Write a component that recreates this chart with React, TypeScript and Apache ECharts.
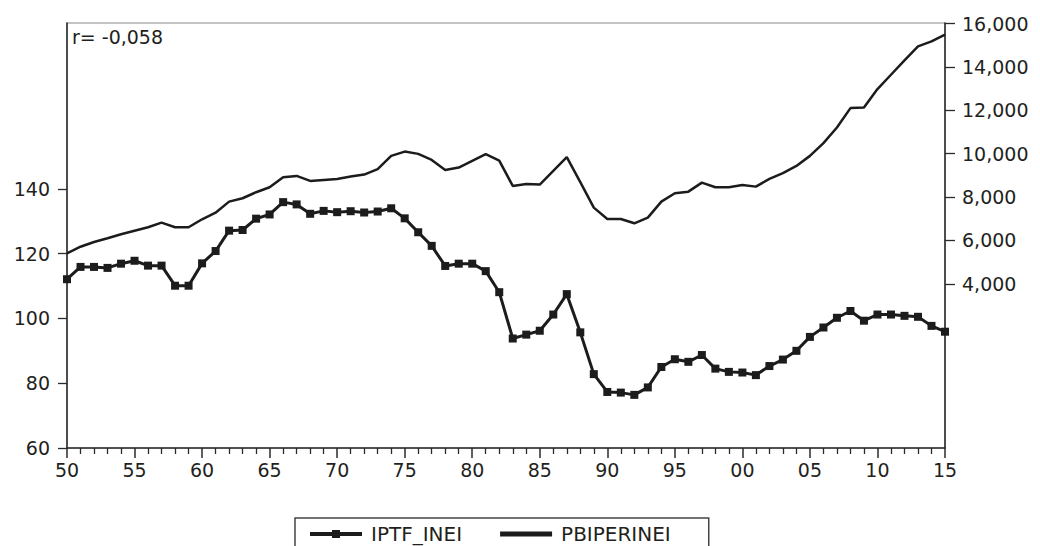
import React, { useEffect, useRef } from "react";
import * as echarts from "echarts";

const years = [
  1950, 1951, 1952, 1953, 1954, 1955, 1956, 1957, 1958, 1959,
  1960, 1961, 1962, 1963, 1964, 1965, 1966, 1967, 1968, 1969,
  1970, 1971, 1972, 1973, 1974, 1975, 1976, 1977, 1978, 1979,
  1980, 1981, 1982, 1983, 1984, 1985, 1986, 1987, 1988, 1989,
  1990, 1991, 1992, 1993, 1994, 1995, 1996, 1997, 1998, 1999,
  2000, 2001, 2002, 2003, 2004, 2005, 2006, 2007, 2008, 2009,
  2010, 2011, 2012, 2013, 2014, 2015,
];

const iptfInei = [
  112.1, 115.9, 115.9, 115.6, 116.9, 117.8, 116.3, 116.3, 110.1, 110.1,
  117.0, 120.8, 127.1, 127.3, 130.8, 132.1, 135.9, 135.2, 132.3, 133.2,
  132.8, 133.1, 132.7, 133.0, 134.0, 130.9, 126.6, 122.4, 116.2, 116.9,
  116.9, 114.6, 108.1, 93.8, 95.0, 96.2, 101.2, 107.5, 95.7, 82.8,
  77.3, 77.1, 76.4, 78.7, 85.0, 87.4, 86.6, 88.7, 84.5, 83.5,
  83.3, 82.5, 85.3, 87.3, 90.0, 94.3, 97.2, 100.2, 102.3, 99.3,
  101.2, 101.2, 100.8, 100.5, 97.7, 95.9,
];

const pbiPerInei = [
  5404, 5709, 5927, 6097, 6282, 6449, 6605, 6818, 6605, 6605,
  6975, 7280, 7788, 7945, 8223, 8454, 8916, 8976, 8745, 8791,
  8837, 8950, 9036, 9285, 9900, 10098, 9992, 9715, 9253, 9359,
  9669, 9978, 9683, 8514, 8606, 8574, 9207, 9840, 8685, 7511,
  6989, 6989, 6790, 7049, 7788, 8176, 8250, 8666, 8454, 8454,
  8560, 8481, 8837, 9100, 9437, 9900, 10486, 11207, 12103, 12131,
  12981, 13642, 14303, 14949, 15180, 15490,
];

const leftTicks = [60, 80, 100, 120, 140];
const rightTicks = [4000, 6000, 8000, 10000, 12000, 14000, 16000];
const seriesNames = ["IPTF_INEI", "PBIPERINEI"];
const corrLabel = "r= -0,058";

const FONT = "DejaVu Sans";
const TXT = "#231f20";
const AX = "#2a2a2a";

export default function App() {
  const ref = useRef<HTMLDivElement>(null);
  useEffect(() => {
    if (!ref.current) return;
    const chart = echarts.init(ref.current, undefined, { renderer: "svg" });
    const iptfData = years.map((y, i) => [y, iptfInei[i]]);
    const pbiData = years.map((y, i) => [y, pbiPerInei[i]]);
    chart.setOption({
      animation: false,
      backgroundColor: "#ffffff",
      textStyle: { fontFamily: FONT },
      grid: {
        left: 67,
        right: 95,
        top: 23,
        bottom: 98,
        show: true,
        borderColor: "#8a8a8a",
        borderWidth: 1.2,
        backgroundColor: "transparent",
      },
      legend: {
        left: 295,
        top: 518,
        orient: "horizontal",
        padding: [6, 38, 12, 13],
        itemGap: 38,
        itemWidth: 52,
        itemHeight: 10,
        borderColor: "#444",
        borderWidth: 1.5,
        data: [
          { name: seriesNames[0] },
          { name: seriesNames[1], icon: "path://M0,0L20,0L20,2L0,2Z" },
        ],
        lineStyle: { width: 4 },
        textStyle: { fontFamily: FONT, fontSize: 20, color: TXT, padding: [0, 0, 0, 4] },
      },
      graphic: [
        {
          type: "text",
          left: 72,
          top: 27,
          style: { text: corrLabel, fontFamily: FONT, fontSize: 19, fill: TXT },
        },
      ],
      xAxis: {
        type: "value",
        min: 1950,
        max: 2015,
        interval: 5,
        axisLine: { show: true, onZero: false, lineStyle: { color: AX, width: 1.5 } },
        axisTick: { show: true, length: 10, lineStyle: { color: AX, width: 1.5 } },
        minorTick: { show: true, splitNumber: 5, length: 6, lineStyle: { color: AX, width: 1.3 } },
        splitLine: { show: false },
        minorSplitLine: { show: false },
        axisLabel: {
          fontFamily: FONT,
          fontSize: 19,
          color: TXT,
          margin: 12,
          formatter: (v: number) => String(v % 100).padStart(2, "0"),
        },
      },
      yAxis: [
        {
          type: "value",
          position: "left",
          min: 60,
          max: 191.2,
          splitLine: { show: false },
          axisLine: { show: true, onZero: false, lineStyle: { color: AX, width: 1.5 } },
          axisTick: { show: true, length: 9, customValues: leftTicks, lineStyle: { color: AX, width: 1.3 } },
          axisLabel: { customValues: leftTicks, fontFamily: FONT, fontSize: 19, color: TXT, margin: 17 },
        },
        {
          type: "value",
          position: "right",
          min: -3577,
          max: 16030,
          splitLine: { show: false },
          axisLine: { show: true, onZero: false, lineStyle: { color: AX, width: 1.5 } },
          axisTick: { show: true, length: 10, customValues: rightTicks, lineStyle: { color: AX, width: 1.3 } },
          axisLabel: {
            customValues: rightTicks,
            fontFamily: FONT,
            fontSize: 19,
            color: TXT,
            margin: 17,
            formatter: (v: number) => v.toLocaleString("en-US"),
          },
        },
      ],
      series: [
        {
          name: seriesNames[0],
          type: "line",
          yAxisIndex: 0,
          data: iptfData,
          symbol: "rect",
          symbolSize: 8,
          showSymbol: true,
          color: "#1c1c1c",
          itemStyle: { color: "#1c1c1c" },
          lineStyle: { color: "#1c1c1c", width: 3 },
          z: 3,
        },
        {
          name: seriesNames[1],
          type: "line",
          yAxisIndex: 1,
          data: pbiData,
          symbol: "none",
          showSymbol: false,
          color: "#1c1c1c",
          itemStyle: { color: "#1c1c1c" },
          lineStyle: { color: "#1c1c1c", width: 2.5 },
          z: 2,
        },
      ],
    });
    return () => chart.dispose();
  }, []);
  return (
    <div
      ref={ref}
      style={{ position: "fixed", left: 0, top: 0, width: 1040, height: 546, background: "#fff" }}
    />
  );
}
